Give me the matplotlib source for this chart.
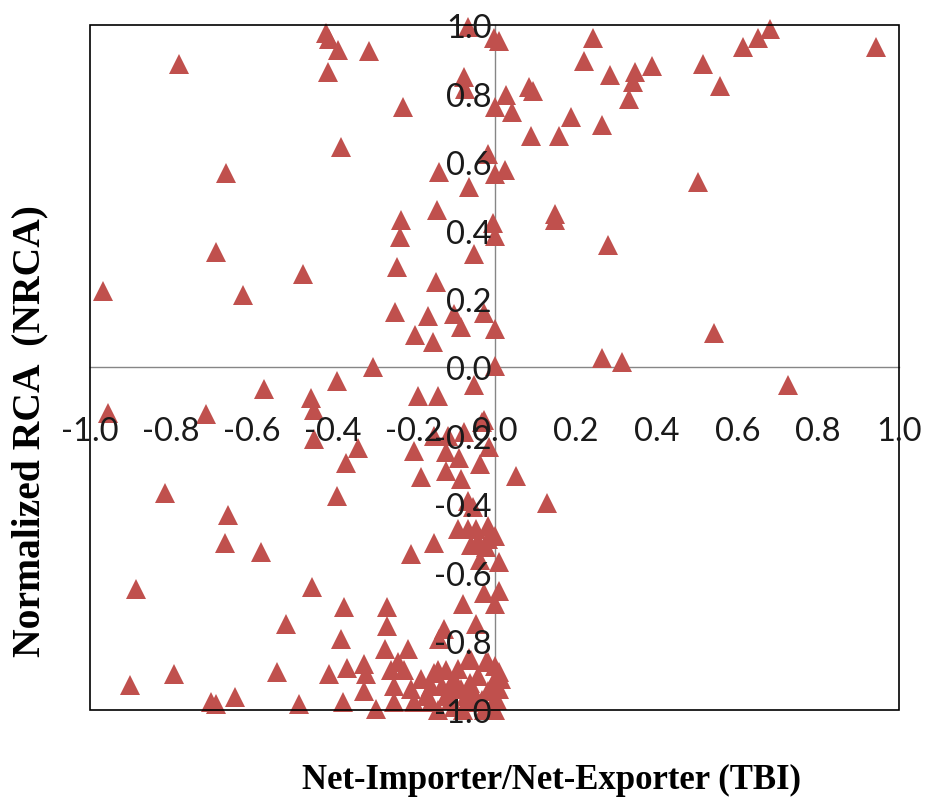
import matplotlib
matplotlib.use("Agg")
import matplotlib.pyplot as plt
from matplotlib.patches import Rectangle

plt.rcParams['font.family'] = ['Lato', 'DejaVu Sans']

# trade balance index (x) vs normalized RCA (y), one point per product
tbi = [
    -0.78, -0.417, -0.41, -0.388, -0.311, -0.412, -0.227, -0.067, -0.076, -0.074,
    -0.002, 0.0, -0.38, -0.664, -0.017, -0.138, -0.064, 0.0, -0.232, -0.235,
    -0.143, -0.005, 0.0, -0.052, -0.689, -0.474, -0.242, -0.968, -0.622, -0.146,
    -0.247, -0.165, -0.101, -0.084, -0.027, 0.0, -0.198, -0.153, -0.3, 0.0,
    0.01, 0.244, 0.22, 0.286, 0.348, 0.341, 0.39, 0.331, 0.084, 0.094,
    0.027, 0.044, 0.188, 0.266, 0.091, 0.16, 0.516, 0.556, 0.615, 0.652,
    0.681, 0.943, 0.025, 0.503, 0.148, 0.15, 0.281, 0.543, 0.266, 0.316,
    0.726, -0.955, -0.714, -0.57, -0.454, -0.447, -0.447, -0.39, -0.19, -0.141,
    -0.052, -0.338, -0.368, -0.39, -0.815, -0.659, -0.667, -0.578, -0.886, -0.452,
    -0.516, -0.373, -0.38, -0.267, -0.267, -0.272, -0.901, -0.793, -0.701, -0.689,
    -0.642, -0.538, -0.484, -0.41, -0.365, -0.375, -0.323, -0.319, -0.323, -0.294,
    -0.03, -0.076, -0.15, -0.015, -0.2, -0.121, -0.089, -0.035, -0.121, -0.183,
    -0.084, 0.054, -0.067, -0.054, 0.13, -0.116, -0.027,
    -0.091, -0.067, -0.047, -0.017, -0.017, 0.0, -0.059, -0.04, -0.022, -0.151,
    -0.207, -0.035, 0.01, -0.027, 0.01, 0.0, -0.077, -0.047, -0.138, -0.215,
    -0.126, -0.059, -0.022, 0.0, -0.257, -0.225, -0.15, -0.121, -0.249, -0.207,
    -0.158, -0.084, -0.052, -0.017, -0.249, -0.2, -0.158, -0.141, -0.077, -0.027,
    0.0, -0.042, -0.109, -0.183, -0.24, 0.015, 0.007, -0.1, -0.065,
    -0.064, -0.017, 0.01, -0.141, -0.12, -0.1, -0.06, -0.03, -0.01, -0.09,
    -0.13, -0.04, -0.11, -0.07, 0.012, -0.17, -0.005,
]
nrca = [
    0.885, 0.978, 0.958, 0.928, 0.923, 0.864, 0.762, 0.993, 0.847, 0.812,
    0.963, 0.76, 0.645, 0.569, 0.622, 0.572, 0.526, 0.565, 0.432, 0.38,
    0.461, 0.423, 0.383, 0.33, 0.338, 0.272, 0.292, 0.222, 0.213, 0.251,
    0.161, 0.149, 0.155, 0.117, 0.16, 0.111, 0.096, 0.073, 0.0, 0.005,
    0.952, 0.963, 0.894, 0.855, 0.864, 0.835, 0.879, 0.785, 0.818, 0.806,
    0.797, 0.747, 0.73, 0.709, 0.677, 0.675, 0.885, 0.823, 0.937, 0.963,
    0.987, 0.937, 0.578, 0.541, 0.447, 0.432, 0.359, 0.102, 0.029, 0.015,
    -0.05, -0.132, -0.137, -0.064, -0.088, -0.123, -0.21, -0.04, -0.084, -0.084,
    -0.05, -0.234, -0.278, -0.376, -0.366, -0.43, -0.511, -0.54, -0.648, -0.642,
    -0.75, -0.70, -0.794, -0.698, -0.756, -0.823, -0.926, -0.896, -0.978, -0.984,
    -0.963, -0.89, -0.984, -0.896, -0.876, -0.978, -0.867, -0.896, -0.946, -0.998,
    -0.16, -0.187, -0.2, -0.233, -0.245, -0.248, -0.263, -0.283, -0.303, -0.321,
    -0.327, -0.318, -0.391, -0.406, -0.395, -0.201, -0.152,
    -0.473, -0.473, -0.473, -0.464, -0.502, -0.493, -0.517, -0.508, -0.523, -0.511,
    -0.546, -0.561, -0.569, -0.657, -0.654, -0.692, -0.692, -0.75, -0.794, -0.823,
    -0.765, -0.853, -0.861, -0.873, -0.882, -0.882, -0.891, -0.882, -0.931, -0.94,
    -0.931, -0.94, -0.949, -0.946, -0.978, -0.978, -0.978, -1.0, -1.0, -1.0,
    -1.0, -0.978, -0.97, -0.911, -0.861, -0.911, -0.97, -0.91, -0.975,
    -0.847, -0.861, -0.888, -0.882, -0.96, -0.99, -0.92, -0.97, -0.99, -0.88,
    -0.93, -0.9, -0.93, -0.96, -0.94, -0.96, -0.92,
]

ticks = [-1.0, -0.8, -0.6, -0.4, -0.2, 0.0, 0.2, 0.4, 0.6, 0.8, 1.0]
tick_labels = ['%.1f' % t for t in ticks]

fig = plt.figure(figsize=(9.28, 8.03), dpi=100)
ax = fig.add_axes([0.097, 0.1146, 0.872, 0.853])

ax.plot(tbi, nrca, marker='^', linestyle='none', markersize=14.5,
        color='#C0504D', markeredgewidth=0, clip_on=False, zorder=2)

ax.set_xlim(-1, 1)
ax.set_ylim(-1, 1)

# axes cross at the origin, outer box drawn separately
for side in ['left', 'bottom']:
    ax.spines[side].set_position(('data', 0))
    ax.spines[side].set_color('#868686')
    ax.spines[side].set_linewidth(1.0)
    ax.spines[side].set_zorder(1)
for side in ['top', 'right']:
    ax.spines[side].set_visible(False)
ax.add_patch(Rectangle((0, 0), 1, 1, transform=ax.transAxes, fill=False,
                       edgecolor='black', linewidth=1.2, zorder=2.5, clip_on=False))

ax.set_xticks(ticks)
ax.set_xticklabels(tick_labels)
ax.set_yticks(ticks)
ax.set_yticklabels(tick_labels)
ax.tick_params(axis='x', length=0, pad=35, labelsize=23.5, colors='#1a1a1a')
ax.tick_params(axis='y', length=0, pad=2, labelsize=23.5, colors='#1a1a1a')
ax.xaxis.set_zorder(3)
ax.yaxis.set_zorder(3)

fig.text(0.594, 0.0286, 'Net-Importer/Net-Exporter (TBI)', ha='center', va='center',
         family='Liberation Serif', fontweight='bold', fontsize=25)
fig.text(0.032, 0.463, 'Normalized RCA  (NRCA)', ha='center', va='center',
         rotation=90, family='Liberation Serif', fontweight='bold', fontsize=28.5)

fig.savefig('out.png', dpi=100)
